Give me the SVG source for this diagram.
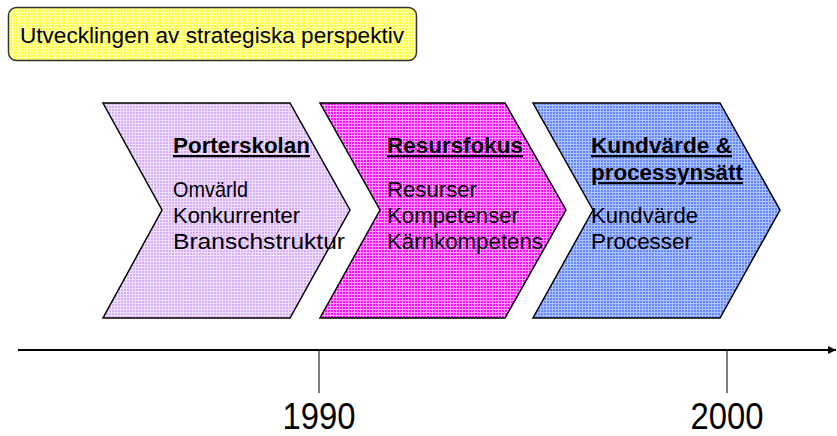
<svg xmlns="http://www.w3.org/2000/svg" width="837" height="436" viewBox="0 0 837 436">
  <defs>
    <pattern id="gridYellow" width="3" height="3" patternUnits="userSpaceOnUse">
      <rect width="3" height="3" fill="#FFFF40"/>
      <path d="M0 0.5H3M0.5 0V3" stroke="#FFFFB0" stroke-width="1"/>
    </pattern>
    <pattern id="gridLavender" width="3" height="3" patternUnits="userSpaceOnUse">
      <rect width="3" height="3" fill="#D8ADFA"/>
      <path d="M0 0.5H3M0.5 0V3" stroke="#F0E2FF" stroke-width="1"/>
    </pattern>
    <pattern id="gridMagenta" width="3" height="3" patternUnits="userSpaceOnUse">
      <rect width="3" height="3" fill="#FF10FF"/>
      <path d="M0 0.5H3M0.5 0V3" stroke="#FF9CFF" stroke-width="1"/>
    </pattern>
    <pattern id="gridBlue" width="3" height="3" patternUnits="userSpaceOnUse">
      <rect width="3" height="3" fill="#6688FF"/>
      <path d="M0 0.5H3M0.5 0V3" stroke="#AEC2FF" stroke-width="1"/>
    </pattern>
    <marker id="arrowHead" viewBox="0 0 10 10" refX="10" refY="5" markerWidth="4" markerHeight="4" orient="auto" markerUnits="strokeWidth">
      <path d="M0 0L10 5L0 10Z" fill="#000"/>
    </marker>
    <style>
      text { font-family: "Liberation Sans", Arial, sans-serif; fill: #000; }
      .chev { stroke: #000; stroke-width: 1.5; stroke-linejoin: miter; }
      .head { font-size: 22.5px; font-weight: bold; text-decoration: underline; }
      .item { font-size: 22.5px; }
      .year { font-size: 36px; text-anchor: middle; }
    </style>
  </defs>

  <!-- title box -->
  <g id="title">
    <rect x="8.5" y="7.5" width="408" height="53" rx="8" ry="8" fill="url(#gridYellow)" stroke="#333" stroke-width="1.5"/>
    <text x="20" y="43" font-size="21.5" textLength="384" lengthAdjust="spacingAndGlyphs">Utvecklingen av strategiska perspektiv</text>
  </g>

  <!-- stage 1 -->
  <g id="porterskolan">
    <path class="chev" d="M103 103H290L350 210L290 318H103L162 210Z" fill="url(#gridLavender)"/>
    <text class="head" x="173" y="153" textLength="137" lengthAdjust="spacingAndGlyphs">Porterskolan</text>
    <text class="item" x="173" y="197" textLength="75" lengthAdjust="spacingAndGlyphs">Omvärld</text>
    <text class="item" x="173" y="223" textLength="127" lengthAdjust="spacingAndGlyphs">Konkurrenter</text>
    <text class="item" x="173" y="249" textLength="172" lengthAdjust="spacingAndGlyphs">Branschstruktur</text>
  </g>

  <!-- stage 2 -->
  <g id="resursfokus">
    <path class="chev" d="M320 103H505L566 210L505 318H320L380 210Z" fill="url(#gridMagenta)"/>
    <text class="head" x="387" y="153" textLength="136" lengthAdjust="spacingAndGlyphs">Resursfokus</text>
    <text class="item" x="387" y="197" textLength="90" lengthAdjust="spacingAndGlyphs">Resurser</text>
    <text class="item" x="387" y="223" textLength="132" lengthAdjust="spacingAndGlyphs">Kompetenser</text>
    <text class="item" x="387" y="249" textLength="156" lengthAdjust="spacingAndGlyphs">Kärnkompetens</text>
  </g>

  <!-- stage 3 -->
  <g id="kundvarde">
    <path class="chev" d="M533 103H720L780 210L720 318H533L593 210Z" fill="url(#gridBlue)"/>
    <text class="head" x="591" y="153" textLength="141" lengthAdjust="spacingAndGlyphs">Kundvärde &amp;</text>
    <text class="head" x="591" y="180" textLength="152" lengthAdjust="spacingAndGlyphs">processynsätt</text>
    <text class="item" x="591" y="223" textLength="107" lengthAdjust="spacingAndGlyphs">Kundvärde</text>
    <text class="item" x="591" y="249" textLength="101" lengthAdjust="spacingAndGlyphs">Processer</text>
  </g>

  <!-- timeline -->
  <g id="timeline">
    <line x1="18" y1="350" x2="836" y2="350" stroke="#000" stroke-width="2" marker-end="url(#arrowHead)"/>
    <line x1="319" y1="350" x2="319" y2="393" stroke="#000" stroke-width="1"/>
    <line x1="727" y1="350" x2="727" y2="393" stroke="#000" stroke-width="1"/>
    <text class="year" x="319" y="429" textLength="73" lengthAdjust="spacingAndGlyphs">1990</text>
    <text class="year" x="727" y="429" textLength="73" lengthAdjust="spacingAndGlyphs">2000</text>
  </g>
</svg>
